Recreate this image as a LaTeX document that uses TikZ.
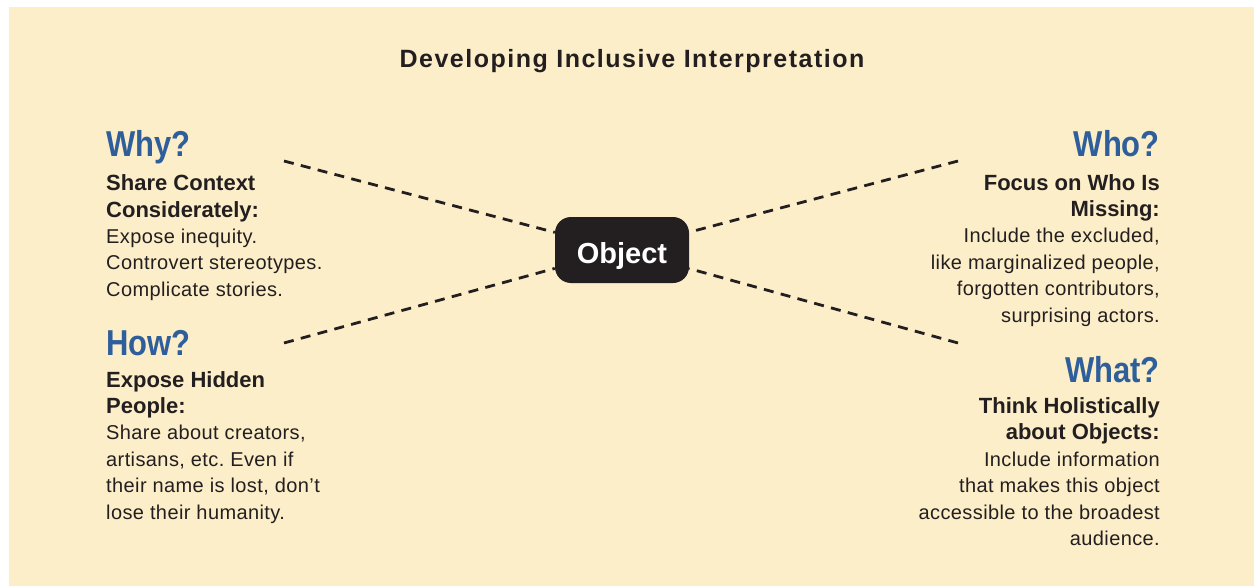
\documentclass[tikz,border=0pt]{standalone}
\usepackage{fontspec}
\setmainfont{Liberation Sans}
\newfontfamily\headfont[FakeStretch=0.86]{Liberation Sans}
\newfontfamily\bodyfont[LetterSpace=2]{Liberation Sans}
\newfontfamily\titlefont[LetterSpace=6]{Liberation Sans}
\frenchspacing
\definecolor{panel}{HTML}{FCEEC8}
\definecolor{ink}{HTML}{231F20}
\definecolor{qblue}{HTML}{2E5E9B}
\begin{document}
\begin{tikzpicture}[x=1pt,y=-1pt,
  every node/.style={inner sep=0pt, text=ink},
  titletext/.style={font=\titlefont\bfseries\fontsize{25}{28}\selectfont, anchor=base},
  question/.style={font=\headfont\bfseries\fontsize{36}{40}\selectfont, text=qblue},
  subhead/.style={font=\bfseries\fontsize{22}{27}\selectfont},
  bodytext/.style={font=\bodyfont\frenchspacing\fontsize{20}{26}\selectfont},
  lft/.style={anchor=base west},
  rgt/.style={anchor=base east},
  hub/.style={fill=ink, rounded corners=16pt, minimum width=134pt, minimum height=66pt,
    text=white, font=\bfseries\fontsize{29}{32}\selectfont, text height=26pt, text depth=0pt},
  spoke/.style={draw=ink, line width=2.8pt, dash pattern=on 10pt off 7.4pt}
]
\useasboundingbox (0,0) rectangle (1254,586);
\fill[panel] (9,7) rectangle (1254,586);

% title
\node[titletext] (title) at (632,68) {Developing Inclusive Interpretation};

% central object and dashed spokes
\node[hub] (obj) at (622,250) {Object};
\coordinate (ul) at (284,161);
\coordinate (ll) at (284,343);
\coordinate (ur) at (958,161);
\coordinate (lr) at (958,343);
\draw[spoke] (ul) -- (obj);
\draw[spoke] (ll) -- (obj);
\draw[spoke] (ur) -- (obj);
\draw[spoke] (lr) -- (obj);

% Why? block
\node[question,lft] (why) at (106,157) {Why?};
\node[subhead,lft] (why-s1) at (106,190) {Share Context};
\node[subhead,lft] (why-s2) at (106,217) {Considerately:};
\node[bodytext,lft] (why-b1) at (106,243) {Expose inequity.};
\node[bodytext,lft] (why-b2) at (106,269.5) {Controvert stereotypes.};
\node[bodytext,lft] (why-b3) at (106,296) {Complicate stories.};

% How? block
\node[question,lft] (how) at (106,355) {How?};
\node[subhead,lft] (how-s1) at (106,387) {Expose Hidden};
\node[subhead,lft] (how-s2) at (106,413) {People:};
\node[bodytext,lft] (how-b1) at (106,439.5) {Share about creators,};
\node[bodytext,lft] (how-b2) at (106,466) {artisans, etc. Even if};
\node[bodytext,lft] (how-b3) at (106,492.5) {their name is lost, don’t};
\node[bodytext,lft] (how-b4) at (106,519) {lose their humanity.};

% Who? block
\node[question,rgt] (who) at (1160,157) {Who?};
\node[subhead,rgt] (who-s1) at (1160,190) {Focus on Who Is};
\node[subhead,rgt] (who-s2) at (1160,216) {Missing:};
\node[bodytext,rgt] (who-b1) at (1160,242.5) {Include the excluded,};
\node[bodytext,rgt] (who-b2) at (1160,269) {like marginalized people,};
\node[bodytext,rgt] (who-b3) at (1160,295.5) {forgotten contributors,};
\node[bodytext,rgt] (who-b4) at (1160,322) {surprising actors.};

% What? block
\node[question,rgt] (what) at (1160,382) {What?};
\node[subhead,rgt] (what-s1) at (1160,413) {Think Holistically};
\node[subhead,rgt] (what-s2) at (1160,439) {about Objects:};
\node[bodytext,rgt] (what-b1) at (1160,466) {Include information};
\node[bodytext,rgt] (what-b2) at (1160,492.5) {that makes this object};
\node[bodytext,rgt] (what-b3) at (1160,519) {accessible to the broadest};
\node[bodytext,rgt] (what-b4) at (1160,545.5) {audience.};
\end{tikzpicture}
\end{document}
